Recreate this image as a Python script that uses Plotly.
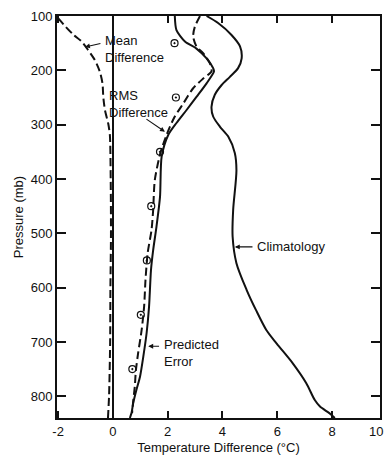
import plotly.graph_objects as go

# Pressure levels (mb) and temperature differences (deg C) for each profile
pred_p = [100, 126, 147, 160, 178, 196, 202, 224, 249, 273, 297, 319, 359, 433,
          488, 531, 568, 635, 684, 727, 764, 788, 813, 831, 840]
pred_t = [2.26, 2.32, 2.63, 3.05, 3.42, 3.66, 3.69, 3.42, 3.05, 2.69, 2.32, 2.02,
          1.78, 1.72, 1.59, 1.47, 1.39, 1.32, 1.23, 1.11, 0.99, 0.86, 0.74, 0.68, 0.62]

rms_p = [100, 120, 138, 156, 169, 187, 202, 215, 233, 261, 285, 304, 319, 351,
         402, 457, 494, 536, 586, 635, 678, 721, 752, 782, 810, 831]
rms_t = [3.18, 2.99, 2.93, 3.05, 3.30, 3.54, 3.60, 3.30, 2.93, 2.57, 2.26, 2.08,
         1.96, 1.74, 1.53, 1.47, 1.41, 1.27, 1.19, 1.14, 1.05, 0.92, 0.84, 0.80,
         0.74, 0.70]

mean_p = [104, 120, 135, 147, 163, 181, 202, 224, 249, 273, 298, 319, 400, 500,
          600, 700, 800, 840]
mean_t = [-2.0, -1.72, -1.43, -1.14, -0.90, -0.66, -0.48, -0.38, -0.35, -0.29,
          -0.17, -0.11, -0.08, -0.07, -0.09, -0.10, -0.14, -0.18]

clim_p = [100, 113, 135, 156, 178, 196, 212, 227, 245, 267, 285, 304, 322, 352,
          384, 457, 506, 555, 604, 641, 678, 703, 739, 776, 807, 819, 831, 840]
clim_t = [3.42, 3.84, 4.33, 4.64, 4.70, 4.57, 4.27, 3.97, 3.72, 3.60, 3.66, 3.91,
          4.21, 4.45, 4.51, 4.39, 4.37, 4.51, 4.88, 5.22, 5.60, 5.98, 6.56, 7.06,
          7.37, 7.56, 7.90, 8.10]

obs_p = [150, 250, 350, 450, 550, 650, 750]
obs_t = [2.25, 2.30, 1.72, 1.40, 1.24, 1.02, 0.71]

x_ticks = [-2, 0, 2, 4, 6, 8, 10]
y_ticks = [100, 200, 300, 400, 500, 600, 700, 800]

X_RANGE = [-2.04, 9.75]
Y_RANGE = [840, 100]

FONT = "Liberation Sans, Arial, sans-serif"
INK = "#111111"
DASH = "8px,4px"

fig = go.Figure()

fig.add_trace(go.Scatter(x=mean_t, y=mean_p, mode="lines",
                         line=dict(color=INK, width=2, dash=DASH,
                                   shape="spline", smoothing=0.7)))
fig.add_trace(go.Scatter(x=rms_t, y=rms_p, mode="lines",
                         line=dict(color=INK, width=2, dash=DASH,
                                   shape="spline", smoothing=0.7)))
fig.add_trace(go.Scatter(x=pred_t, y=pred_p, mode="lines",
                         line=dict(color=INK, width=2,
                                   shape="spline", smoothing=0.7)))
fig.add_trace(go.Scatter(x=clim_t, y=clim_p, mode="lines",
                         line=dict(color=INK, width=2,
                                   shape="spline", smoothing=0.8)))
fig.add_trace(go.Scatter(x=obs_t, y=obs_p, mode="markers",
                         marker=dict(symbol="circle-open-dot", size=7,
                                     color=INK, line=dict(width=1.2, color=INK))))

shown_x = [v for v in x_ticks if X_RANGE[0] <= v <= X_RANGE[1]]

fig.update_xaxes(range=X_RANGE, tickvals=shown_x, ticktext=[str(v) for v in shown_x],
                 ticks="inside", ticklen=7, tickwidth=1.5, tickcolor=INK,
                 showline=True, linewidth=2, linecolor=INK, mirror="ticks",
                 showgrid=False, zeroline=True, zerolinecolor=INK, zerolinewidth=1.6,
                 automargin=False,
                 tickfont=dict(family=FONT, size=13, color=INK),
                 title=dict(text="Temperature Difference (°C)", standoff=8,
                            font=dict(family=FONT, size=13, color=INK)))
fig.update_yaxes(range=Y_RANGE, tickvals=y_ticks, ticks="inside", ticklen=9,
                 tickwidth=1.5, tickcolor=INK,
                 showline=True, linewidth=2, linecolor=INK, mirror="ticks",
                 showgrid=False, zeroline=False, automargin=False,
                 tickfont=dict(family=FONT, size=13, color=INK),
                 title=dict(text="Pressure (mb)", standoff=4,
                            font=dict(family=FONT, size=13, color=INK)))

annots = []
# the axis end value sits just past the frame; pin its label to the page edge
for v in x_ticks:
    if v > X_RANGE[1]:
        annots.append(dict(x=1, xref="paper", xshift=5, y=0, yref="paper", yshift=-4,
                           text=str(v), showarrow=False,
                           xanchor="right", yanchor="top",
                           font=dict(family=FONT, size=13, color=INK)))

labels = [
    ("Mean<br>Difference", -0.36, 161),
    ("RMS<br>Difference", -0.22, 262),
    ("Climatology", 5.18, 525),
    ("Predicted<br>Error", 1.79, 721),
]
for text, lx, ly in labels:
    annots.append(dict(x=lx, y=ly, xref="x", yref="y", text=text, showarrow=False,
                       xanchor="left", yanchor="middle", align="left",
                       font=dict(family=FONT, size=13, color=INK)))

# leader arrows: (tip x, tip y, tail x, tail y)
leaders = [
    (-1.02, 157, -0.40, 150),
    (1.90, 313, 1.17, 288),
    (4.45, 525, 5.15, 525),
    (1.29, 708, 1.74, 708),
]
for tx, ty, sx, sy in leaders:
    annots.append(dict(x=tx, y=ty, ax=sx, ay=sy, xref="x", yref="y",
                       axref="x", ayref="y", text="", showarrow=True,
                       arrowhead=2, arrowsize=0.9, arrowwidth=1.1, arrowcolor=INK))

fig.update_layout(width=385, height=455, showlegend=False,
                  margin=dict(l=57, r=5, t=16, b=37),
                  paper_bgcolor="white", plot_bgcolor="white",
                  annotations=annots)

fig.write_html("out.html")
